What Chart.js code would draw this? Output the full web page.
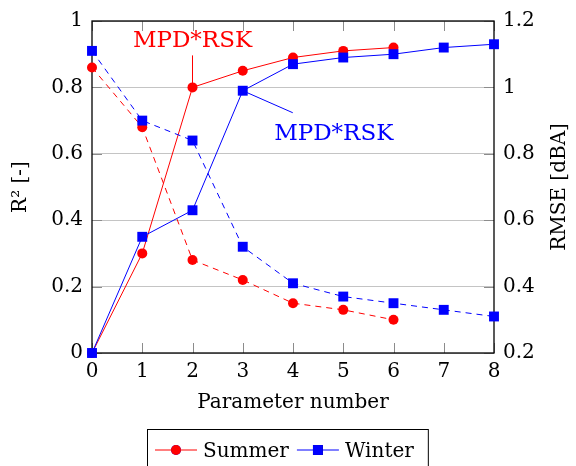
<!DOCTYPE html>
<html>
<head>
<meta charset="utf-8">
<script src="https://cdn.jsdelivr.net/npm/chart.js@4.4.0/dist/chart.umd.min.js"></script>
<style>
  html, body { margin: 0; padding: 0; background: #fff; }
</style>
</head>
<body>
<canvas id="chart" width="576" height="466"></canvas>
<script>
const paramNumbers = [0, 1, 2, 3, 4, 5, 6, 7, 8];
const summerR2 = [0, 0.30, 0.80, 0.85, 0.89, 0.91, 0.92];
const summerRmse = [1.06, 0.88, 0.48, 0.42, 0.35, 0.33, 0.30];
const winterR2 = [0, 0.35, 0.43, 0.79, 0.87, 0.89, 0.90, 0.92, 0.93];
const winterRmse = [1.11, 0.90, 0.84, 0.52, 0.41, 0.37, 0.35, 0.33, 0.31];
const r2Ticks = [0, 0.2, 0.4, 0.6, 0.8, 1];
const rmseTicks = [0.2, 0.4, 0.6, 0.8, 1, 1.2];

Chart.defaults.font.family = '"DejaVu Serif", serif';
Chart.defaults.font.size = 20;
Chart.defaults.color = '#000';

function toPoints(values) {
    return values.map((v, i) => ({ x: paramNumbers[i], y: v }));
}

function setTicks(values) {
    return axis => { axis.ticks = values.map(v => ({ value: v })); };
}

const plainLabel = v => String(v);

// frame, inward tick marks, right axis title, callouts and the boxed legend
const decorPlugin = {
    id: 'decor',
    beforeDatasetsDraw(chart) {
        const { ctx, chartArea: a, scales } = chart;
        const len = 10;
        ctx.save();
        ctx.strokeStyle = '#8c8c8c';
        ctx.lineWidth = 1;
        ctx.beginPath();
        scales.x.ticks.forEach(t => {
            const px = Math.round(scales.x.getPixelForValue(t.value)) + 0.5;
            ctx.moveTo(px, a.bottom); ctx.lineTo(px, a.bottom - len);
            ctx.moveTo(px, a.top); ctx.lineTo(px, a.top + len);
        });
        scales.y.ticks.forEach(t => {
            const py = Math.round(scales.y.getPixelForValue(t.value)) + 0.5;
            ctx.moveTo(a.left, py); ctx.lineTo(a.left + len, py);
        });
        scales.y2.ticks.forEach(t => {
            const py = Math.round(scales.y2.getPixelForValue(t.value)) + 0.5;
            ctx.moveTo(a.right, py); ctx.lineTo(a.right - len, py);
        });
        ctx.stroke();
        ctx.strokeStyle = '#000';
        ctx.lineWidth = 1.3;
        ctx.strokeRect(a.left, a.top, a.right - a.left, a.bottom - a.top);
        ctx.restore();
    },
    afterDatasetsDraw(chart, args, opts) {
        const { ctx } = chart;
        ctx.save();
        opts.callouts.forEach(c => {
            const el = chart.getDatasetMeta(c.dataset).data[c.index];
            ctx.strokeStyle = c.color;
            ctx.lineWidth = 1;
            ctx.beginPath();
            ctx.moveTo(el.x, el.y);
            ctx.lineTo(el.x + c.lineDx, el.y + c.lineDy);
            ctx.stroke();
            ctx.fillStyle = c.color;
            ctx.font = '23px "DejaVu Serif", serif';
            ctx.textAlign = 'center';
            ctx.textBaseline = 'alphabetic';
            ctx.fillText(c.text, el.x + c.textDx, el.y + c.textDy);
        });
        ctx.restore();
    },
    afterDraw(chart, args, opts) {
        const { ctx, chartArea: a } = chart;
        ctx.save();
        ctx.font = '20px "DejaVu Serif", serif';
        ctx.fillStyle = '#000';
        ctx.textBaseline = 'middle';
        ctx.textAlign = 'center';
        ctx.translate(560, (a.top + a.bottom) / 2);
        ctx.rotate(-Math.PI / 2);
        ctx.fillText(opts.rightTitle, 0, 0);
        ctx.restore();

        // legend
        ctx.save();
        ctx.font = '20px "DejaVu Serif", serif';
        const boxLeft = 147, boxTop = 429, lineY = 450;
        let x = boxLeft + 8;
        opts.legend.forEach(di => {
            const ds = chart.data.datasets[di];
            ctx.strokeStyle = ds.borderColor;
            ctx.lineWidth = 1;
            ctx.beginPath();
            ctx.moveTo(x, lineY); ctx.lineTo(x + 42, lineY);
            ctx.stroke();
            Chart.helpers.drawPoint(ctx, {
                pointStyle: ds.pointStyle, radius: ds.pointRadius, borderWidth: 0
            }, x + 21, lineY);
            ctx.fillStyle = ds.borderColor;
            ctx.fill();
            ctx.fillStyle = '#000';
            ctx.textAlign = 'left';
            ctx.textBaseline = 'alphabetic';
            ctx.fillText(ds.label, x + 48, 457);
            x += 48 + ctx.measureText(ds.label).width + 8;
        });
        ctx.strokeStyle = '#000';
        ctx.lineWidth = 1;
        ctx.strokeRect(boxLeft + 0.5, boxTop + 0.5, x - boxLeft + 6, 60);
        ctx.restore();
    }
};

const ctx = document.getElementById('chart').getContext('2d');
new Chart(ctx, {
    type: 'line',
    data: {
        datasets: [
            {
                label: 'Winter', data: toPoints(winterR2), yAxisID: 'y',
                borderColor: '#0000ff', backgroundColor: '#0000ff', borderWidth: 1,
                pointStyle: 'rect', pointRadius: 7, pointBorderWidth: 0, clip: false
            },
            {
                label: 'Winter RMSE', data: toPoints(winterRmse), yAxisID: 'y2',
                borderColor: '#0000ff', backgroundColor: '#0000ff', borderWidth: 1, borderDash: [6, 5],
                pointStyle: 'rect', pointRadius: 7, pointBorderWidth: 0, clip: false
            },
            {
                label: 'Summer', data: toPoints(summerR2), yAxisID: 'y',
                borderColor: '#ff0000', backgroundColor: '#ff0000', borderWidth: 1,
                pointStyle: 'circle', pointRadius: 5, pointBorderWidth: 0, clip: false
            },
            {
                label: 'Summer RMSE', data: toPoints(summerRmse), yAxisID: 'y2',
                borderColor: '#ff0000', backgroundColor: '#ff0000', borderWidth: 1, borderDash: [6, 5],
                pointStyle: 'circle', pointRadius: 5, pointBorderWidth: 0, clip: false
            }
        ]
    },
    options: {
        responsive: false,
        animation: false,
        layout: { padding: { top: 20, bottom: 43, left: 0, right: 0 } },
        scales: {
            x: {
                type: 'linear', min: 0, max: 8,
                afterBuildTicks: setTicks(paramNumbers),
                afterFit: axis => { axis.height = 70; },
                grid: { display: false, drawTicks: false },
                border: { display: false },
                ticks: { padding: 7, maxRotation: 0, callback: plainLabel },
                title: { display: true, text: 'Parameter number', padding: { top: 0, bottom: 8 } }
            },
            y: {
                position: 'left', min: 0, max: 1,
                afterBuildTicks: setTicks(r2Ticks),
                afterFit: axis => { axis.width = 92; },
                grid: { color: '#c4c4c4', drawTicks: false },
                border: { display: false },
                ticks: { padding: 9, callback: plainLabel },
                title: { display: true, text: 'R² [-]', padding: { top: 9, bottom: 0 } }
            },
            y2: {
                position: 'right', min: 0.2, max: 1.2,
                afterBuildTicks: setTicks(rmseTicks),
                afterFit: axis => { axis.width = 82; },
                grid: { display: false, drawTicks: false },
                border: { display: false },
                ticks: { padding: 9, callback: plainLabel }
            }
        },
        plugins: {
            legend: { display: false },
            tooltip: { enabled: false },
            decor: {
                rightTitle: 'RMSE [dBA]',
                legend: [2, 0],
                callouts: [
                    { dataset: 2, index: 2, text: 'MPD*RSK', color: '#ff0000', lineDx: 0, lineDy: -32, textDx: 0, textDy: -40 },
                    { dataset: 0, index: 3, text: 'MPD*RSK', color: '#0000ff', lineDx: 50, lineDy: 22, textDx: 91, textDy: 49 }
                ]
            }
        }
    },
    plugins: [decorPlugin]
});
</script>
</body>
</html>
